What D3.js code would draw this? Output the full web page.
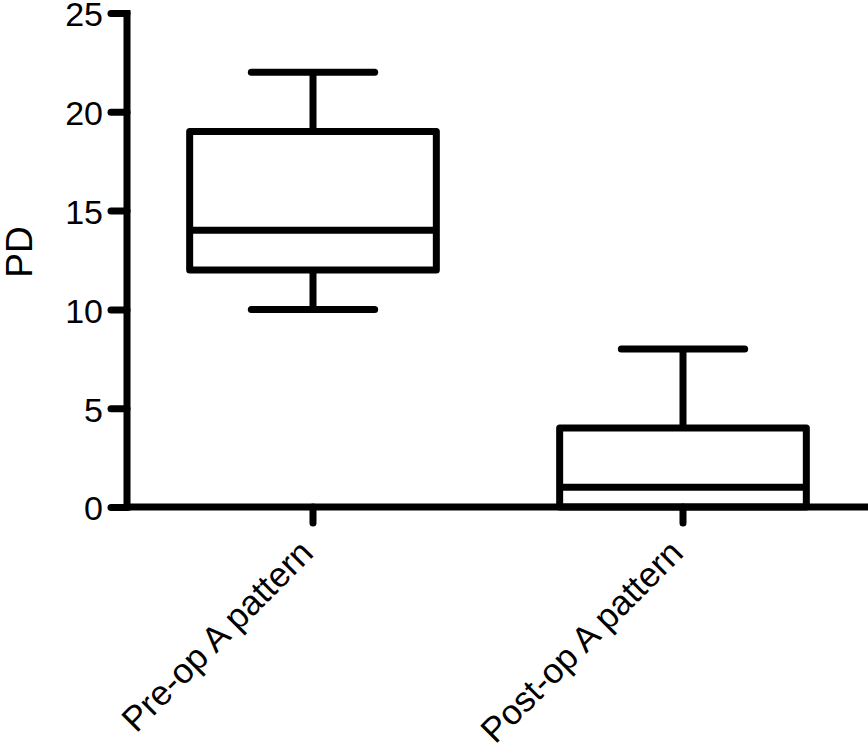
<!DOCTYPE html>
<html><head><meta charset="utf-8">
<script src="https://cdn.jsdelivr.net/npm/d3@7"></script>
<style>body{margin:0;background:#fff}svg{display:block}text{font-family:"Liberation Sans",Arial,Helvetica,sans-serif}</style>
</head><body>
<script>
const categories = ["Pre-op A pattern", "Post-op A pattern"];
const whiskerMin = [10, 0];
const q1 = [12, 0];
const median = [14, 1];
const q3 = [19, 4];
const whiskerMax = [22, 8];
const yTicks = [0, 5, 10, 15, 20, 25];
const yLabel = "PD";

const W = 868, H = 755;
const svg = d3.select("body").append("svg").attr("width", W).attr("height", H);
const y = d3.scaleLinear().domain([0, 25]).range([507, 13]);
const x = d3.scaleBand().domain(categories).range([128, 868]).paddingInner(0).paddingOuter(0);
const sw = 7;
const boxW = x.bandwidth() * 2 / 3;
const capW = boxW / 2;

// y axis
const yAxis = svg.append("g").attr("transform", "translate(127,0)")
  .call(d3.axisLeft(y).tickValues(yTicks).tickSize(16).tickPadding(8));
yAxis.select(".domain").remove();
yAxis.selectAll(".tick line").attr("stroke", "#000").attr("stroke-width", sw).attr("stroke-linecap", "round");
yAxis.selectAll(".tick text").attr("font-size", 34).attr("fill", "#000").attr("dy", "0.38em");
svg.append("line").attr("x1", 127).attr("x2", 127).attr("y1", y(25) - 3).attr("y2", y(0) + 3.5)
  .attr("stroke", "#000").attr("stroke-width", sw);

// x axis
const xAxis = svg.append("g").attr("transform", "translate(0,507)")
  .call(d3.axisBottom(x).tickSize(16).tickFormat(""));
xAxis.select(".domain").remove();
xAxis.selectAll(".tick line").attr("stroke", "#000").attr("stroke-width", sw).attr("stroke-linecap", "round");
svg.append("line").attr("x1", 124).attr("x2", W).attr("y1", y(0)).attr("y2", y(0))
  .attr("stroke", "#000").attr("stroke-width", sw);

// x labels rotated
categories.forEach((c) => {
  const cx = x(c) + x.bandwidth() / 2;
  svg.append("text").attr("transform", `translate(${cx + 2},${555}) rotate(-45)`)
    .attr("text-anchor", "end").attr("font-size", 35).attr("fill", "#000").text(c);
});

// y label
svg.append("text").attr("transform", `translate(32,${y(12.5) - 8}) rotate(-90)`)
  .attr("text-anchor", "middle").attr("font-size", 37).attr("fill", "#000").text(yLabel);

// boxes
const g = svg.append("g").attr("stroke", "#000").attr("stroke-width", sw).attr("fill", "none");
categories.forEach((c, i) => {
  const cx = x(c) + x.bandwidth() / 2;
  g.append("line").attr("x1", cx).attr("x2", cx).attr("y1", y(whiskerMax[i])).attr("y2", y(q3[i]));
  g.append("line").attr("x1", cx).attr("x2", cx).attr("y1", y(q1[i])).attr("y2", y(whiskerMin[i]));
  g.append("line").attr("x1", cx - capW / 2).attr("x2", cx + capW / 2).attr("y1", y(whiskerMax[i])).attr("y2", y(whiskerMax[i])).attr("stroke-linecap", "round");
  if (whiskerMin[i] !== q1[i]) {
    g.append("line").attr("x1", cx - capW / 2).attr("x2", cx + capW / 2).attr("y1", y(whiskerMin[i])).attr("y2", y(whiskerMin[i])).attr("stroke-linecap", "round");
  }
  g.append("rect").attr("x", cx - boxW / 2).attr("y", y(q3[i])).attr("width", boxW)
    .attr("height", y(q1[i]) - y(q3[i])).attr("stroke-linejoin", "round");
  g.append("line").attr("x1", cx - boxW / 2).attr("x2", cx + boxW / 2).attr("y1", y(median[i])).attr("y2", y(median[i]));
});
</script>
</body></html>
